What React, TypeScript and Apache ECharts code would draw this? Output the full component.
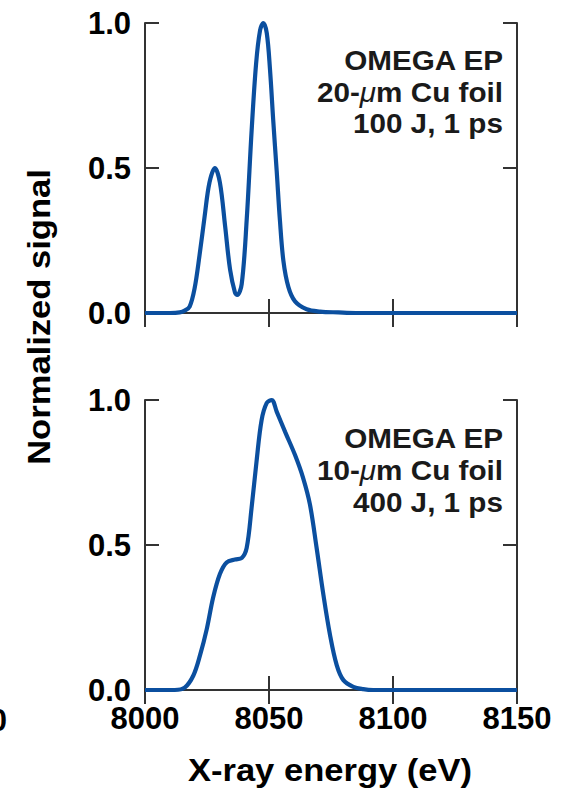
import React, { useEffect, useRef } from "react";
import * as echarts from "echarts";

const topEnergy = [8000, 8010, 8014, 8016, 8018, 8020, 8022, 8024, 8026, 8028.2, 8030.2, 8032.3, 8034.3, 8036.3, 8037.2, 8039, 8041, 8043, 8044.8, 8046.4, 8047.7, 8049.1, 8050.4, 8051.7, 8053.1, 8054.4, 8055.8, 8057.8, 8060.5, 8065.2, 8070.6, 8078, 8085, 8150];
const topSignal = [0, 0, 0.002, 0.008, 0.022, 0.085, 0.2, 0.33, 0.45, 0.5, 0.45, 0.3, 0.15, 0.07, 0.062, 0.1, 0.32, 0.63, 0.86, 0.975, 1.0, 0.965, 0.84, 0.665, 0.49, 0.32, 0.18, 0.09, 0.04, 0.013, 0.005, 0.002, 0, 0];

const bottomEnergy = [8000, 8012, 8016, 8019.5, 8022.2, 8024.9, 8027.5, 8030.2, 8032.9, 8036.3, 8039, 8041, 8043, 8045, 8047, 8049.1, 8051.1, 8053.1, 8056.5, 8060.5, 8063.8, 8066.5, 8069.2, 8071.9, 8074.6, 8077.3, 8080, 8084, 8088, 8092, 8150];
const bottomSignal = [0, 0, 0.008, 0.05, 0.12, 0.21, 0.32, 0.4, 0.44, 0.45, 0.455, 0.49, 0.63, 0.79, 0.93, 0.99, 1.0, 0.96, 0.89, 0.81, 0.73, 0.64, 0.49, 0.33, 0.19, 0.086, 0.034, 0.011, 0.003, 0, 0];

const xTicks = [8000, 8050, 8100, 8150];
const yTicks = [0, 0.5, 1.0];
const topLabels = ["OMEGA EP", "20-{mu|μ}m Cu foil", "100 J, 1 ps"];
const bottomLabels = ["OMEGA EP", "10-{mu|μ}m Cu foil", "400 J, 1 ps"];
const xTitle = "X-ray energy (eV)";
const yTitle = "Normalized signal";

const FONT = "'Liberation Sans', Arial, Helvetica, sans-serif";
const AXIS_COLOR = "#333333";
const LINE_COLOR = "#0b4f9f";

export default function App() {
  const ref = useRef<HTMLDivElement>(null);
  useEffect(() => {
    if (!ref.current) return;
    const chart = echarts.init(ref.current, undefined, { renderer: "svg" });
    const axisLine = { show: true, lineStyle: { color: AXIS_COLOR, width: 2 } };
    const axisTick = { show: true, inside: true, length: 14, lineStyle: { color: AXIS_COLOR, width: 2 } };
    const tickLabel = { fontFamily: FONT, fontWeight: "bold" as const, fontSize: 31, color: "#000" };

    const xAxes: any[] = [];
    const yAxes: any[] = [];
    [0, 1].forEach((g) => {
      xAxes.push({
        type: "value", gridIndex: g, position: "bottom", min: xTicks[0], max: xTicks[xTicks.length - 1], interval: 50,
        axisLine, axisTick, splitLine: { show: false },
        axisLabel: g === 1
          ? { ...tickLabel, margin: 13, showMinLabel: true, showMaxLabel: true, formatter: (v: number) => String(v) }
          : { show: false },
      });
      xAxes.push({
        type: "value", gridIndex: g, position: "top", min: xTicks[0], max: xTicks[xTicks.length - 1], interval: 50,
        axisLine, axisTick, splitLine: { show: false }, axisLabel: { show: false },
      });
      yAxes.push({
        type: "value", gridIndex: g, position: "left", min: yTicks[0], max: yTicks[yTicks.length - 1], interval: 0.5,
        axisLine, axisTick, splitLine: { show: false },
        axisLabel: { ...tickLabel, margin: 14, formatter: (v: number) => v.toFixed(1), showMinLabel: true, showMaxLabel: true },
      });
      yAxes.push({
        type: "value", gridIndex: g, position: "right", min: yTicks[0], max: yTicks[yTicks.length - 1], interval: 0.5,
        axisLine, axisTick, splitLine: { show: false }, axisLabel: { show: false },
      });
    });

    const annot = (lines: string[], baselines: number[]) =>
      lines.map((t, i) => ({
        type: "text",
        x: 503,
        y: baselines[i] - 10,
        scaleX: 1.06,
        style: {
          text: t,
          align: "right",
          verticalAlign: "middle",
          fontFamily: FONT,
          fontWeight: "bold",
          fontSize: 28,
          fill: "#1a1a1a",
          rich: {
            mu: { fontFamily: FONT, fontWeight: "normal", fontStyle: "italic", fontSize: 28, fill: "#1a1a1a" },
          },
        },
      }));

    chart.setOption({
      animation: false,
      backgroundColor: "#ffffff",
      grid: [
        { left: 145, top: 23, width: 372, height: 290 },
        { left: 145, top: 400, width: 372, height: 290 },
      ],
      xAxis: xAxes,
      yAxis: yAxes,
      series: [
        {
          type: "line", xAxisIndex: 0, yAxisIndex: 0, showSymbol: false, smooth: 0.35, clip: false,
          lineStyle: { color: LINE_COLOR, width: 4.2 },
          data: topEnergy.map((e, i) => [e, topSignal[i]]),
        },
        {
          type: "line", xAxisIndex: 2, yAxisIndex: 2, showSymbol: false, smooth: 0.35, clip: false,
          lineStyle: { color: LINE_COLOR, width: 4.2 },
          data: bottomEnergy.map((e, i) => [e, bottomSignal[i]]),
        },
      ],
      graphic: [
        ...annot(topLabels, [70, 102, 133]),
        ...annot(bottomLabels, [448, 480, 512]),
        {
          type: "text", x: 39, y: 317, rotation: Math.PI / 2, scaleX: 1.08,
          style: { text: yTitle, align: "center", verticalAlign: "middle", fontFamily: FONT, fontWeight: "bold", fontSize: 32, fill: "#000" },
        },
        {
          type: "text", x: 330, y: 770, scaleX: 1.08,
          style: { text: xTitle, align: "center", verticalAlign: "middle", fontFamily: FONT, fontWeight: "bold", fontSize: 32, fill: "#000" },
        },
        {
          type: "text", x: 7, y: 720,
          style: { text: "0", align: "right", verticalAlign: "middle", fontFamily: FONT, fontWeight: "bold", fontSize: 31, fill: "#000" },
        },
      ],
    });
    return () => chart.dispose();
  }, []);
  return <div ref={ref} style={{ position: "fixed", left: 0, top: 0, width: 567, height: 790, background: "#fff" }} />;
}
